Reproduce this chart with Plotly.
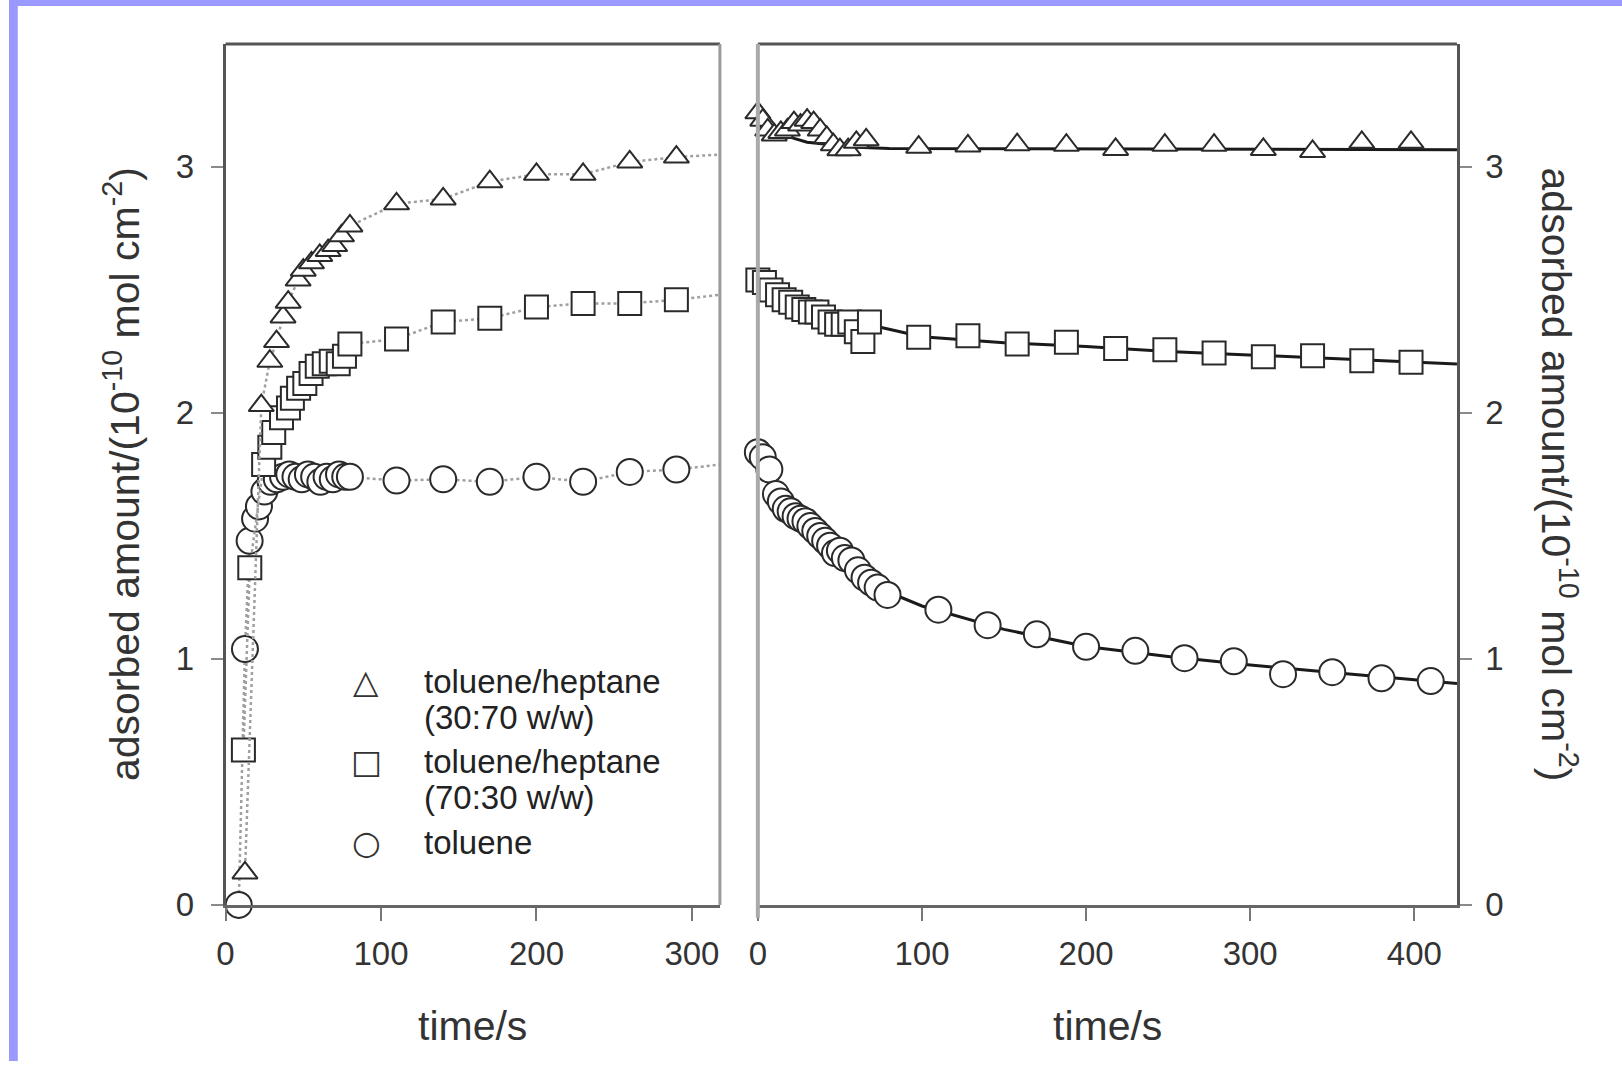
import plotly.graph_objects as go

# ---------------- data ----------------
# Left panel: adsorption
tri_L_t = [12.5, 23, 28.5, 32.8, 37, 40.3, 46.7, 50, 55.3, 60.6, 66, 70.2, 74.6, 80,
           110, 140, 170, 200, 230, 260, 290]
tri_L_v = [0.13, 2.03, 2.21, 2.29, 2.39, 2.45, 2.54, 2.58, 2.61, 2.64, 2.66, 2.68, 2.72, 2.76,
           2.85, 2.87, 2.94, 2.97, 2.97, 3.02, 3.04]
tri_L_end_t = [318]
tri_L_end_v = [3.05]

sq_L_t = [11.5, 15.6, 24.5, 28.5, 31, 36, 40.5, 43, 47, 51, 55, 59, 63.5, 68, 72.5, 76.5, 80,
          110, 140, 170, 200, 230, 260, 290]
sq_L_v = [0.63, 1.37, 1.79, 1.86, 1.92, 1.98, 2.02, 2.06, 2.10, 2.12, 2.16, 2.19, 2.20, 2.21,
          2.20, 2.23, 2.28, 2.30, 2.37, 2.385, 2.43, 2.445, 2.445, 2.46]
sq_L_end_t = [318]
sq_L_end_v = [2.48]

ci_L_t = [8.5, 12.5, 15.5, 19, 21.5, 25, 29, 33, 37, 41, 45, 49, 53, 57, 61, 65, 69, 73, 77, 80,
          110, 140, 170, 200, 230, 260, 290]
ci_L_v = [0.0, 1.04, 1.48, 1.57, 1.62, 1.68, 1.72, 1.73, 1.74, 1.75, 1.74, 1.73, 1.75, 1.74,
          1.72, 1.74, 1.73, 1.75, 1.74, 1.74, 1.725, 1.73, 1.72, 1.74, 1.72, 1.76, 1.77]
ci_L_end_t = [318]
ci_L_end_v = [1.79]

# Right panel: desorption
tri_R_t = [0, 3, 6, 10, 14, 18, 22, 26, 30, 34, 38, 42, 46, 50, 55, 60, 66,
           98, 128, 158, 188, 218, 248, 278, 308, 338, 368, 398]
tri_R_v = [3.22, 3.19, 3.15, 3.13, 3.14, 3.15, 3.18, 3.17, 3.19, 3.18, 3.15, 3.12, 3.09, 3.07,
           3.07, 3.10, 3.11,
           3.08, 3.085, 3.09, 3.088, 3.071, 3.088, 3.088, 3.071, 3.063, 3.10, 3.10]
tri_R_fit_t = [0, 10, 20, 30, 45, 60, 80, 426]
tri_R_fit_v = [3.17, 3.14, 3.12, 3.10, 3.09, 3.08, 3.075, 3.07]

sq_R_t = [0, 4, 8, 12, 16, 20, 24, 28, 32, 36, 40, 44, 48, 52, 56, 60, 64, 68,
          98, 128, 158, 188, 218, 248, 278, 308, 338, 368, 398]
sq_R_v = [2.54, 2.53, 2.50, 2.48, 2.46, 2.45, 2.43, 2.42, 2.41, 2.41, 2.39, 2.37, 2.36, 2.36,
          2.37, 2.33, 2.29, 2.37,
          2.307, 2.314, 2.28, 2.287, 2.262, 2.257, 2.243, 2.228, 2.232, 2.212, 2.206]
sq_R_fit_t = [0, 20, 40, 60, 80, 100, 150, 200, 250, 300, 350, 426]
sq_R_fit_v = [2.54, 2.46, 2.41, 2.37, 2.34, 2.31, 2.285, 2.27, 2.25, 2.235, 2.22, 2.199]

ci_R_t = [0, 3, 7, 11, 14, 17, 20, 23, 26, 29, 32, 35, 38, 41, 44, 47, 50, 53, 57, 61, 65, 69,
          73, 79, 110, 140, 170, 200, 230, 260, 290, 320, 350, 380, 410]
ci_R_v = [1.84, 1.82, 1.77, 1.67, 1.64, 1.61, 1.60, 1.58, 1.57, 1.56, 1.54, 1.52, 1.50, 1.48,
          1.46, 1.43, 1.44, 1.41, 1.40, 1.36, 1.33, 1.31, 1.29, 1.26,
          1.20, 1.137, 1.10, 1.049, 1.033, 1.003, 0.99, 0.938, 0.946, 0.921, 0.91]
ci_R_fit_t = [0, 10, 20, 30, 40, 50, 60, 80, 100, 150, 200, 250, 300, 350, 400, 426]
ci_R_fit_v = [1.84, 1.70, 1.61, 1.555, 1.50, 1.44, 1.38, 1.27, 1.215, 1.12, 1.05, 1.01,
              0.975, 0.945, 0.915, 0.90]

y_ticks = [0, 1, 2, 3]
xL_ticks = [0, 100, 200, 300]
xR_ticks = [0, 100, 200, 300, 400]

legend_symbols = ["△", "□", "○"]
legend_lines = [["toluene/heptane", "(30:70 w/w)"], ["toluene/heptane", "(70:30 w/w)"], ["toluene"]]
y_title = "adsorbed amount/(10<sup>-10</sup> mol cm<sup>-2</sup>)"
x_title = "time/s"

# ---------------- figure ----------------
W, H = 1622, 1080
FONT = "Liberation Sans, Arial, sans-serif"
MK_LINE = dict(color="#2a2a2a", width=2)

# target pixel positions -> layout positions (compensates the page capture offset/scale)
SX, OX = 0.9957, 7.2
SY, OY = 0.9847, 0.0
def px(v):
    return ((v - OX) / SX) / W
def py(v):
    return 1 - ((v - OY) / SY) / H

fig = go.Figure()

def add_left(t, v, end_t, end_v, symbol, size):
    fig.add_trace(go.Scatter(x=t + end_t, y=v + end_v, mode="lines",
                             line=dict(color="#a0a0a0", width=2.5, dash="dot"),
                             xaxis="x", yaxis="y", cliponaxis=False, hoverinfo="skip"))
    fig.add_trace(go.Scatter(x=t, y=v, mode="markers",
                             marker=dict(symbol=symbol, size=size, color="white", line=MK_LINE),
                             xaxis="x", yaxis="y", cliponaxis=False))

def add_right(t, v, ft, fv, symbol, size):
    fig.add_trace(go.Scatter(x=ft, y=fv, mode="lines",
                             line=dict(color="#1a1a1a", width=3),
                             xaxis="x2", yaxis="y2", cliponaxis=False, hoverinfo="skip"))
    fig.add_trace(go.Scatter(x=t, y=v, mode="markers",
                             marker=dict(symbol=symbol, size=size, color="white", line=MK_LINE),
                             xaxis="x2", yaxis="y2", cliponaxis=False))

add_left(ci_L_t, ci_L_v, ci_L_end_t, ci_L_end_v, "circle", 26)
add_left(sq_L_t, sq_L_v, sq_L_end_t, sq_L_end_v, "square", 23)
add_left(tri_L_t, tri_L_v, tri_L_end_t, tri_L_end_v, "triangle-up", 22)
add_right(ci_R_t, ci_R_v, ci_R_fit_t, ci_R_fit_v, "circle", 26)
add_right(sq_R_t, sq_R_v, sq_R_fit_t, sq_R_fit_v, "square", 23)
add_right(tri_R_t, tri_R_v, tri_R_fit_t, tri_R_fit_v, "triangle-up", 22)

# plot area geometry (target pixels)
L_x0, L_x1 = 224, 719
R_x0, R_x1 = 757, 1457
P_top, P_bot = 44, 907

tickfont = dict(family=FONT, size=33, color="#333333")
common_x = dict(showgrid=False, zeroline=False, showline=True, linecolor="#666666", linewidth=3,
                ticks="outside", ticklen=13, tickwidth=2, tickcolor="#777777",
                tickfont=tickfont, ticklabelstandoff=5)
common_y = dict(showgrid=False, zeroline=False, showline=True, linecolor="#555555", linewidth=2.5,
                ticks="outside", ticklen=12, tickwidth=2, tickcolor="#8a8a8a",
                tickfont=tickfont, range=[0, 3.5],
                tickvals=y_ticks, ticktext=[str(v) for v in y_ticks])

fig.update_layout(
    width=W, height=H, margin=dict(l=0, r=0, t=0, b=0),
    paper_bgcolor="white", plot_bgcolor="white", showlegend=False,
    xaxis=dict(domain=[px(L_x0), px(L_x1)], range=[0, 318], anchor="y",
               tickvals=xL_ticks, ticktext=[str(v) for v in xL_ticks], **common_x),
    yaxis=dict(domain=[py(P_bot), py(P_top)], anchor="x", side="left",
               ticklabelstandoff=10, **common_y),
    xaxis2=dict(domain=[px(R_x0), px(R_x1)], range=[0, 426], anchor="y2",
                tickvals=xR_ticks, ticktext=[str(v) for v in xR_ticks], **common_x),
    yaxis2=dict(domain=[py(P_bot), py(P_top)], anchor="x2", side="right",
                ticklabelstandoff=7, **common_y),
)

shapes = [
    # lavender page border (top and left)
    dict(type="rect", xref="paper", yref="paper", x0=0, x1=1, y0=py(6), y1=1,
         fillcolor="#9999ff", line=dict(width=0), layer="above"),
    dict(type="rect", xref="paper", yref="paper", x0=0, x1=px(16), y0=0, y1=1,
         fillcolor="#9999ff", line=dict(width=0), layer="above"),
    # left panel top and right edges
    dict(type="line", xref="paper", yref="paper", x0=px(L_x0), x1=px(L_x1), y0=py(P_top), y1=py(P_top),
         line=dict(color="#555555", width=3)),
    dict(type="line", xref="paper", yref="paper", x0=px(L_x1), x1=px(L_x1), y0=py(P_bot), y1=py(P_top),
         line=dict(color="#9a9a9a", width=3)),
    # right panel top and left edges
    dict(type="line", xref="paper", yref="paper", x0=px(R_x0), x1=px(R_x1), y0=py(P_top), y1=py(P_top),
         line=dict(color="#555555", width=3)),
    dict(type="line", xref="paper", yref="paper", x0=px(R_x0), x1=px(R_x0), y0=py(P_bot + 13), y1=py(P_top),
         line=dict(color="#aaaaaa", width=4)),
]
fig.update_layout(shapes=shapes)

ann = []
title_font = dict(family=FONT, size=41, color="#333333")
ann.append(dict(text=y_title, xref="paper", yref="paper", x=px(121), y=py((P_top + P_bot) / 2),
                textangle=-90, showarrow=False, font=title_font, xanchor="center", yanchor="middle"))
ann.append(dict(text=y_title, xref="paper", yref="paper", x=px(1559), y=py((P_top + P_bot) / 2),
                textangle=90, showarrow=False, font=title_font, xanchor="center", yanchor="middle"))
ann.append(dict(text=x_title, xref="paper", yref="paper", x=px((L_x0 + L_x1) / 2), y=py(1028),
                showarrow=False, font=title_font, xanchor="center", yanchor="middle"))
ann.append(dict(text=x_title, xref="paper", yref="paper", x=px((R_x0 + R_x1) / 2), y=py(1028),
                showarrow=False, font=title_font, xanchor="center", yanchor="middle"))

# legend (text annotations)
leg_font = dict(family=FONT, size=33, color="#222222")
sym_font = dict(family="DejaVu Sans", size=33, color="#333333")
row_y = [683, 763, 844]
for sym, lines, y0 in zip(legend_symbols, legend_lines, row_y):
    ann.append(dict(text=sym, xref="paper", yref="paper", x=px(365), y=py(y0), showarrow=False,
                    font=sym_font, xanchor="center", yanchor="middle"))
    for i, ln in enumerate(lines):
        ann.append(dict(text=ln, xref="paper", yref="paper", x=px(421), y=py(y0 + 36 * i),
                        showarrow=False, font=leg_font, xanchor="left", yanchor="middle"))
fig.update_layout(annotations=ann)

fig.write_html("out.html")
